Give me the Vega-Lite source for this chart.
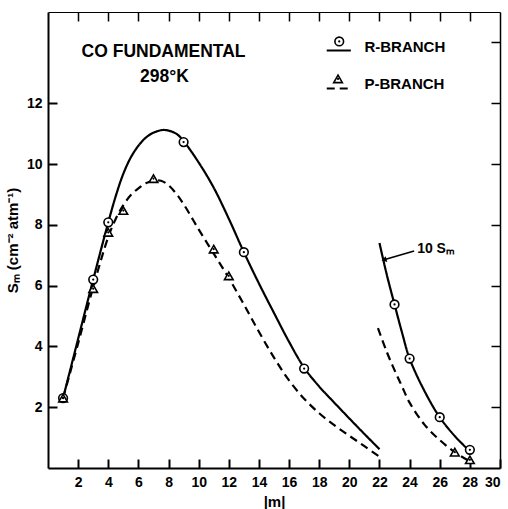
{
  "$schema": "https://vega.github.io/schema/vega-lite/v6.json",
  "width": 452,
  "height": 456,
  "autosize": {"type": "none"},
  "padding": {"left": 48, "top": 12, "right": 8, "bottom": 41},
  "background": "white",
  "config": {
    "view": {"stroke": null},
    "font": "Liberation Sans",
    "axis": {"grid": false, "domainColor": "black", "tickColor": "black", "labelColor": "black", "titleColor": "black", "labelFont": "Liberation Sans", "titleFont": "Liberation Sans", "labelFontWeight": "bold", "titleFontWeight": "bold"}
  },
  "resolve": {"axis": {"x": "independent", "y": "independent"}},
  "datasets": {
    "curves": [
      {"branch": "R", "seg": "Ra", "m": 1, "S": 2.3}, {"branch": "R", "seg": "Ra", "m": 2, "S": 4.25}, {"branch": "R", "seg": "Ra", "m": 3, "S": 6.2}, {"branch": "R", "seg": "Ra", "m": 4, "S": 8.08}, {"branch": "R", "seg": "Ra", "m": 4.5, "S": 8.95}, {"branch": "R", "seg": "Ra", "m": 5, "S": 9.68}, {"branch": "R", "seg": "Ra", "m": 5.5, "S": 10.22}, {"branch": "R", "seg": "Ra", "m": 6, "S": 10.6}, {"branch": "R", "seg": "Ra", "m": 6.5, "S": 10.87}, {"branch": "R", "seg": "Ra", "m": 7, "S": 11.03}, {"branch": "R", "seg": "Ra", "m": 7.7, "S": 11.12}, {"branch": "R", "seg": "Ra", "m": 8.5, "S": 11.0}, {"branch": "R", "seg": "Ra", "m": 9, "S": 10.75}, {"branch": "R", "seg": "Ra", "m": 10, "S": 10.05}, {"branch": "R", "seg": "Ra", "m": 11, "S": 9.22}, {"branch": "R", "seg": "Ra", "m": 12, "S": 8.2}, {"branch": "R", "seg": "Ra", "m": 13, "S": 7.1}, {"branch": "R", "seg": "Ra", "m": 14, "S": 6.07}, {"branch": "R", "seg": "Ra", "m": 15, "S": 5.1}, {"branch": "R", "seg": "Ra", "m": 16, "S": 4.15}, {"branch": "R", "seg": "Ra", "m": 17, "S": 3.3}, {"branch": "R", "seg": "Ra", "m": 18, "S": 2.68}, {"branch": "R", "seg": "Ra", "m": 19, "S": 2.15}, {"branch": "R", "seg": "Ra", "m": 20, "S": 1.63}, {"branch": "R", "seg": "Ra", "m": 21, "S": 1.12}, {"branch": "R", "seg": "Ra", "m": 22, "S": 0.62},
      {"branch": "P", "seg": "Pa", "m": 1, "S": 2.3}, {"branch": "P", "seg": "Pa", "m": 2, "S": 4.1}, {"branch": "P", "seg": "Pa", "m": 3, "S": 5.95}, {"branch": "P", "seg": "Pa", "m": 4, "S": 7.6}, {"branch": "P", "seg": "Pa", "m": 4.5, "S": 8.2}, {"branch": "P", "seg": "Pa", "m": 5, "S": 8.65}, {"branch": "P", "seg": "Pa", "m": 5.5, "S": 8.98}, {"branch": "P", "seg": "Pa", "m": 6, "S": 9.2}, {"branch": "P", "seg": "Pa", "m": 6.5, "S": 9.37}, {"branch": "P", "seg": "Pa", "m": 7, "S": 9.45}, {"branch": "P", "seg": "Pa", "m": 7.5, "S": 9.45}, {"branch": "P", "seg": "Pa", "m": 8, "S": 9.3}, {"branch": "P", "seg": "Pa", "m": 8.5, "S": 9.03}, {"branch": "P", "seg": "Pa", "m": 9, "S": 8.68}, {"branch": "P", "seg": "Pa", "m": 10, "S": 7.85}, {"branch": "P", "seg": "Pa", "m": 11, "S": 7.05}, {"branch": "P", "seg": "Pa", "m": 12, "S": 6.25}, {"branch": "P", "seg": "Pa", "m": 13, "S": 5.38}, {"branch": "P", "seg": "Pa", "m": 14, "S": 4.48}, {"branch": "P", "seg": "Pa", "m": 15, "S": 3.63}, {"branch": "P", "seg": "Pa", "m": 16, "S": 2.88}, {"branch": "P", "seg": "Pa", "m": 17, "S": 2.28}, {"branch": "P", "seg": "Pa", "m": 18, "S": 1.8}, {"branch": "P", "seg": "Pa", "m": 19, "S": 1.41}, {"branch": "P", "seg": "Pa", "m": 20, "S": 1.06}, {"branch": "P", "seg": "Pa", "m": 21, "S": 0.72}, {"branch": "P", "seg": "Pa", "m": 22, "S": 0.37},
      {"branch": "R", "seg": "Rb", "m": 22, "S": 7.4}, {"branch": "R", "seg": "Rb", "m": 22.5, "S": 6.33}, {"branch": "R", "seg": "Rb", "m": 23, "S": 5.38}, {"branch": "R", "seg": "Rb", "m": 23.5, "S": 4.45}, {"branch": "R", "seg": "Rb", "m": 24, "S": 3.6}, {"branch": "R", "seg": "Rb", "m": 25, "S": 2.52}, {"branch": "R", "seg": "Rb", "m": 26, "S": 1.67}, {"branch": "R", "seg": "Rb", "m": 27, "S": 1.05}, {"branch": "R", "seg": "Rb", "m": 28, "S": 0.55},
      {"branch": "P", "seg": "Pb", "m": 21.9, "S": 4.6}, {"branch": "P", "seg": "Pb", "m": 22.5, "S": 3.8}, {"branch": "P", "seg": "Pb", "m": 23, "S": 3.22}, {"branch": "P", "seg": "Pb", "m": 23.5, "S": 2.68}, {"branch": "P", "seg": "Pb", "m": 24, "S": 2.15}, {"branch": "P", "seg": "Pb", "m": 25, "S": 1.42}, {"branch": "P", "seg": "Pb", "m": 26, "S": 0.92}, {"branch": "P", "seg": "Pb", "m": 27, "S": 0.52}, {"branch": "P", "seg": "Pb", "m": 28, "S": 0.22}
    ],
    "points": [
      {"branch": "R", "m": 1, "S": 2.3}, {"branch": "R", "m": 3, "S": 6.2}, {"branch": "R", "m": 4, "S": 8.08}, {"branch": "R", "m": 9, "S": 10.72}, {"branch": "R", "m": 13, "S": 7.1}, {"branch": "R", "m": 17, "S": 3.27}, {"branch": "R", "m": 23, "S": 5.38}, {"branch": "R", "m": 24, "S": 3.6}, {"branch": "R", "m": 26, "S": 1.67}, {"branch": "R", "m": 28, "S": 0.6},
      {"branch": "P", "m": 1, "S": 2.3}, {"branch": "P", "m": 3, "S": 5.9}, {"branch": "P", "m": 4, "S": 7.75}, {"branch": "P", "m": 5, "S": 8.47}, {"branch": "P", "m": 7, "S": 9.52}, {"branch": "P", "m": 11, "S": 7.2}, {"branch": "P", "m": 12, "S": 6.32}, {"branch": "P", "m": 27, "S": 0.52}, {"branch": "P", "m": 28, "S": 0.27}
    ],
    "legendLines": [
      {"branch": "R", "m": 18.5, "S": 13.73}, {"branch": "R", "m": 20.1, "S": 13.73},
      {"branch": "P", "m": 18.5, "S": 12.48}, {"branch": "P", "m": 20.1, "S": 12.48}
    ],
    "legendMarks": [
      {"branch": "R", "m": 19.33, "S": 14.03},
      {"branch": "P", "m": 19.25, "S": 12.8}
    ],
    "legendText": [
      {"label": "R-BRANCH", "m": 21.0, "S": 13.86},
      {"label": "P-BRANCH", "m": 21.0, "S": 12.64}
    ],
    "titleText": [
      {"label": "CO FUNDAMENTAL", "m": 7.67, "S": 13.7},
      {"label": "298°K", "m": 7.73, "S": 12.87}
    ],
    "annot": [
      {"label": "10 Sₘ", "m": 24.5, "S": 7.2}
    ],
    "arrow": [
      {"m": 24.3, "S": 7.14}, {"m": 22.3, "S": 6.85}
    ],
    "arrowHead": [
      {"m": 22.3, "S": 6.85}
    ]
  },
  "layer": [
    {
      "data": {"name": "curves"},
      "mark": {"type": "line", "interpolate": "catmull-rom", "color": "black", "strokeWidth": 2.2},
      "encoding": {
        "x": {"field": "m", "type": "quantitative", "scale": {"domain": [0, 30], "nice": false},
          "axis": {"orient": "bottom", "values": [2, 4, 6, 8, 10, 12, 14, 16, 18, 20, 22, 24, 26, 28, 30], "tickSize": -9, "tickWidth": 2, "domainWidth": 2, "labelFontSize": 14, "labelPadding": 16, "title": "|m|", "titleFontSize": 15, "titlePadding": 5}},
        "y": {"field": "S", "type": "quantitative", "scale": {"domain": [0, 15], "nice": false},
          "axis": {"orient": "left", "values": [2, 4, 6, 8, 10, 12], "tickSize": -9, "tickWidth": 2, "domainWidth": 2, "labelFontSize": 14, "labelPadding": 15, "title": "Sₘ (cm⁻² atm⁻¹)", "titleFontSize": 15, "titlePadding": 6}},
        "strokeDash": {"field": "branch", "type": "nominal", "scale": {"domain": ["R", "P"], "range": [[1, 0], [8, 5]]}, "legend": null},
        "detail": {"field": "seg"}
      }
    },
    {
      "data": {"name": "legendLines"},
      "mark": {"type": "line", "color": "black", "strokeWidth": 2},
      "encoding": {
        "x": {"field": "m", "type": "quantitative",
          "axis": {"orient": "top", "values": [2, 4, 6, 8, 10, 12, 14, 16, 18, 20, 22, 24, 26, 28], "tickSize": -9, "tickWidth": 1.5, "domainWidth": 1.2, "labels": false, "title": null}},
        "y": {"field": "S", "type": "quantitative",
          "axis": {"orient": "right", "values": [2, 4, 6, 8, 10, 12, 14], "tickSize": -9, "tickWidth": 1.5, "domainWidth": 1.5, "labels": false, "title": null}},
        "strokeDash": {"field": "branch", "type": "nominal", "legend": null},
        "detail": {"field": "branch"}
      }
    },
    {
      "data": {"name": "points"},
      "mark": {"type": "point", "filled": false, "fill": "white", "fillOpacity": 1, "color": "black", "strokeWidth": 1.6, "size": 75},
      "encoding": {
        "x": {"field": "m", "type": "quantitative", "axis": null},
        "y": {"field": "S", "type": "quantitative", "axis": null},
        "shape": {"field": "branch", "type": "nominal", "scale": {"domain": ["R", "P"], "range": ["circle", "triangle-up"]}, "legend": null}
      }
    },
    {
      "data": {"name": "legendMarks"},
      "mark": {"type": "point", "filled": false, "fill": "white", "fillOpacity": 1, "color": "black", "strokeWidth": 1.6, "size": 75},
      "encoding": {
        "x": {"field": "m", "type": "quantitative", "axis": null},
        "y": {"field": "S", "type": "quantitative", "axis": null},
        "shape": {"field": "branch", "type": "nominal", "legend": null}
      }
    },
    {
      "data": {"name": "points"},
      "mark": {"type": "point", "filled": true, "color": "black", "shape": "circle", "size": 5, "opacity": 1},
      "encoding": {
        "x": {"field": "m", "type": "quantitative", "axis": null},
        "y": {"field": "S", "type": "quantitative", "axis": null}
      }
    },
    {
      "data": {"name": "legendMarks"},
      "mark": {"type": "point", "filled": true, "color": "black", "shape": "circle", "size": 5, "opacity": 1},
      "encoding": {
        "x": {"field": "m", "type": "quantitative", "axis": null},
        "y": {"field": "S", "type": "quantitative", "axis": null}
      }
    },
    {
      "data": {"name": "legendText"},
      "mark": {"type": "text", "align": "left", "baseline": "middle", "fontSize": 15, "fontWeight": "bold", "color": "black"},
      "encoding": {
        "x": {"field": "m", "type": "quantitative", "axis": null},
        "y": {"field": "S", "type": "quantitative", "axis": null},
        "text": {"field": "label"}
      }
    },
    {
      "data": {"name": "titleText"},
      "mark": {"type": "text", "align": "center", "baseline": "middle", "fontSize": 17.5, "fontWeight": "bold", "color": "black"},
      "encoding": {
        "x": {"field": "m", "type": "quantitative", "axis": null},
        "y": {"field": "S", "type": "quantitative", "axis": null},
        "text": {"field": "label"}
      }
    },
    {
      "data": {"name": "annot"},
      "mark": {"type": "text", "align": "left", "baseline": "middle", "fontSize": 14, "fontWeight": "bold", "color": "black"},
      "encoding": {
        "x": {"field": "m", "type": "quantitative", "axis": null},
        "y": {"field": "S", "type": "quantitative", "axis": null},
        "text": {"field": "label"}
      }
    },
    {
      "data": {"name": "arrow"},
      "mark": {"type": "line", "color": "black", "strokeWidth": 1.6},
      "encoding": {
        "x": {"field": "m", "type": "quantitative", "axis": null},
        "y": {"field": "S", "type": "quantitative", "axis": null}
      }
    },
    {
      "data": {"name": "arrowHead"},
      "mark": {"type": "point", "shape": "triangle-right", "filled": true, "color": "black", "size": 35, "angle": 164, "opacity": 1},
      "encoding": {
        "x": {"field": "m", "type": "quantitative", "axis": null},
        "y": {"field": "S", "type": "quantitative", "axis": null}
      }
    }
  ]
}
